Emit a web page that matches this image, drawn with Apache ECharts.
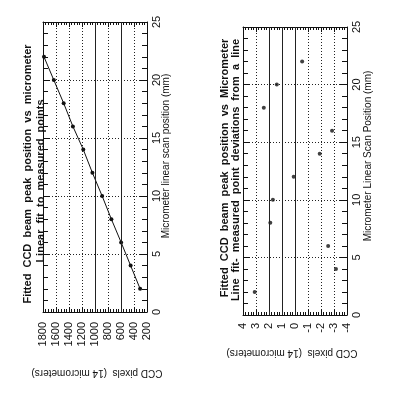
<!DOCTYPE html>
<html><head><meta charset="utf-8">
<script src="https://cdn.jsdelivr.net/npm/echarts@6/dist/echarts.min.js"></script>
<style>html,body{margin:0;padding:0;background:#fff}#c{width:397px;height:393px}</style>
</head><body><div id="c"></div>
<script>
// ---- data ----
const scanPositionMm = [2, 4, 6, 8, 10, 12, 14, 16, 18, 20, 22];
const ccdPeakPixel = [306, 452, 598, 748, 890, 1040, 1180, 1340, 1482, 1634, 1785];
const deviationPixel = [3.1, -3.15, -2.55, 1.9, 1.7, 0.1, -1.9, -2.85, 2.4, 1.4, -0.55];
const ccdAxis = { min: 200, max: 1800, interval: 200 };
const devAxis = { min: -4, max: 4, interval: 1 };
const posAxis = { min: 0, max: 25, interval: 5 };
const solidGridCcd = [1000, 600];
const solidGridDev = [2, 1, 0];
const leftTitle = ['Fitted  CCD  beam  peak  position  vs  micrometer', 'Linear  fit  to  measured  points'];
const rightTitle = ['Fitted  CCD  beam  peak  position  vs  Micrometer', 'Line  fit-  measured  point  deviations  from  a  line'];
const leftYName = 'Micrometer linear scan position (mm)';
const rightYName = 'Micrometer Linear Scan Position (mm)';
const xName = 'CCD pixels  (14 micrometers)';

const FONT = 'Liberation Sans, Arial, sans-serif';
const black = '#111';

function xAx(grid, range, pos, labels, margin) {
  return {
    type: 'value', gridIndex: grid, position: pos, inverse: true,
    min: range.min, max: range.max, interval: range.interval,
    axisLine: { show: true, onZero: false, lineStyle: { color: black, width: 1 } },
    axisTick: { show: true, inside: true, length: 5, lineStyle: { color: black } },
    minorTick: { show: true, splitNumber: 5, length: 3, lineStyle: { color: black } },
    splitLine: { show: labels, lineStyle: { color: '#222', type: [1, 2], width: 1 } },
    axisLabel: { show: labels, rotate: 90, margin: margin, fontSize: 11, fontFamily: FONT, color: black,
                 formatter: v => String(v) }
  };
}
function yAx(grid, pos, labels) {
  return {
    type: 'value', gridIndex: grid, position: pos,
    min: posAxis.min, max: posAxis.max, interval: posAxis.interval,
    axisLine: { show: true, onZero: false, lineStyle: { color: black, width: 1 } },
    axisTick: { show: true, inside: true, length: 7, lineStyle: { color: black } },
    minorTick: { show: true, splitNumber: 5, length: 5, lineStyle: { color: black } },
    splitLine: { show: labels, lineStyle: { color: '#222', type: [1, 2], width: 1 } },
    axisLabel: { show: labels, rotate: 90, margin: 4, fontSize: 11, fontFamily: FONT, color: black,
                 formatter: v => String(v) }
  };
}
function txt(x, y, text, size, bold, rot) {
  return {
    type: 'text', x: x, y: y, rotation: rot, silent: true,
    style: { text: text, fill: black, font: (bold ? 'bold ' : '') + size + 'px ' + FONT,
             textAlign: 'center', textVerticalAlign: 'middle' }
  };
}

const chart = echarts.init(document.getElementById('c'), null, { renderer: 'canvas' });
chart.setOption({
  animation: false,
  backgroundColor: '#fff',
  grid: [
    { left: 43, top: 22, width: 104, height: 290 },
    { left: 243, top: 27, width: 104, height: 288 }
  ],
  xAxis: [
    xAx(0, ccdAxis, 'bottom', true, 10), xAx(0, ccdAxis, 'top', false, 8),
    xAx(1, devAxis, 'bottom', true, 8), xAx(1, devAxis, 'top', false, 8)
  ],
  yAxis: [
    yAx(0, 'right', true), yAx(0, 'left', false),
    yAx(1, 'right', true), yAx(1, 'left', false)
  ],
  graphic: [
    txt(28, 174, leftTitle[0], 11, true, Math.PI / 2),
    txt(41, 181, leftTitle[1], 11, true, Math.PI / 2),
    txt(225, 168, rightTitle[0], 11, true, Math.PI / 2),
    txt(236, 170, rightTitle[1], 11, true, Math.PI / 2),
    txt(166, 156, leftYName, 10, false, Math.PI / 2),
    txt(368, 156, rightYName, 10, false, Math.PI / 2),
    txt(97, 373, xName, 10, false, Math.PI),
    txt(292, 353, xName, 10, false, Math.PI)
  ],
  series: [
    {
      type: 'line', xAxisIndex: 0, yAxisIndex: 0,
      data: scanPositionMm.map((p, i) => [ccdPeakPixel[i], p]),
      symbol: 'circle', symbolSize: 4,
      lineStyle: { color: black, width: 1 }, itemStyle: { color: black },
      markLine: {
        silent: true, symbol: 'none', label: { show: false },
        lineStyle: { color: '#222', type: 'solid', width: 1 },
        data: solidGridCcd.map(v => ({ xAxis: v }))
      }
    },
    {
      type: 'scatter', xAxisIndex: 2, yAxisIndex: 2,
      data: scanPositionMm.map((p, i) => [deviationPixel[i], p]),
      symbol: 'circle', symbolSize: 4, itemStyle: { color: black },
      markLine: {
        silent: true, symbol: 'none', label: { show: false },
        lineStyle: { color: '#222', type: 'solid', width: 1 },
        data: solidGridDev.map(v => ({ xAxis: v }))
      }
    }
  ]
});
</script></body></html>
